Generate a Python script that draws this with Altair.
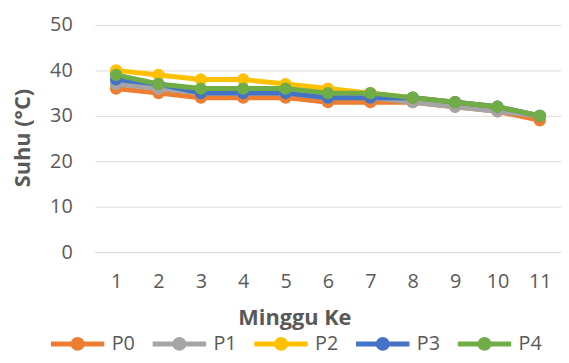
import altair as alt
import pandas as pd

weeks = ["1", "2", "3", "4", "5", "6", "7", "8", "9", "10", "11"]
series = ["P0", "P1", "P2", "P3", "P4"]
colors = ["#ED7D31", "#A5A5A5", "#FFC000", "#4472C4", "#70AD47"]
p0 = [36, 35, 34, 34, 34, 33, 33, 33, 32, 31, 29]
p1 = [37, 36, 35, 35, 35, 34, 34, 33, 32, 31, 30]
p2 = [40, 39, 38, 38, 37, 36, 35, 34, 33, 32, 30]
p3 = [38, 37, 35, 35, 35, 34, 34, 34, 33, 32, 30]
p4 = [39, 37, 36, 36, 36, 35, 35, 34, 33, 32, 30]

rows = []
for name, vals in zip(series, [p0, p1, p2, p3, p4]):
    for w, v in zip(weeks, vals):
        rows.append({"Minggu": w, "Suhu": v, "Seri": name})
df = pd.DataFrame(rows)

FONT = "Open Sans"
GREY = "#595959"

# line from -1 to 1 with a filled dot in the middle (stroked small circles)
legend_path = (
    "M-1,0L1,0 "
    "M0.074,0A0.074,0.074,0,1,1,-0.074,0A0.074,0.074,0,1,1,0.074,0Z "
    "M0.167,0A0.167,0.167,0,1,1,-0.167,0A0.167,0.167,0,1,1,0.167,0Z"
)

chart = alt.Chart(df).mark_line(
    strokeWidth=5,
    point=alt.OverlayMarkDef(filled=True, size=154, opacity=1),
).encode(
    x=alt.X(
        "Minggu:O",
        sort=weeks,
        scale=alt.Scale(type="point", padding=0.5),
        axis=alt.Axis(
            title="Minggu Ke",
            labelAngle=0,
            ticks=False,
            tickSize=0,
            domain=True,
            domainColor="#D9D9D9",
            labelPadding=20,
            labelFontSize=20,
            labelColor=GREY,
            labelFont=FONT,
            titleFont=FONT,
            titleFontSize=22,
            titleFontWeight="bold",
            titleColor=GREY,
            titleX=202,
            titleY=73,
            titleBaseline="alphabetic",
            titleAlign="center",
        ),
    ),
    y=alt.Y(
        "Suhu:Q",
        scale=alt.Scale(domain=[0, 50], nice=False),
        axis=alt.Axis(
            title="Suhu (°C)",
            values=[0, 10, 20, 30, 40, 50],
            ticks=False,
            tickSize=0,
            domain=False,
            grid=True,
            gridColor="#D9D9D9",
            gridWidth=1,
            labelPadding=23,
            labelFontSize=20,
            labelColor=GREY,
            labelFont=FONT,
            titleFont=FONT,
            titleFontSize=22,
            titleFontWeight="bold",
            titleColor=GREY,
            titleAngle=-90,
            titleX=-73,
            titleY=114,
            titleAlign="center",
            titleBaseline="middle",
        ),
    ),
    color=alt.Color(
        "Seri:N",
        scale=alt.Scale(domain=series, range=colors),
        legend=alt.Legend(
            title=None,
            orient="none",
            direction="horizontal",
            legendX=-47,
            legendY=293,
            symbolType=legend_path,
            symbolSize=2916,
            symbolStrokeWidth=5,
            symbolOpacity=1,
            labelOffset=5,
            columnPadding=7,
            labelFont=FONT,
            labelFontSize=20,
            labelColor=GREY,
        ),
    ),
).properties(
    width=472,
    height=230,
    autosize=alt.AutoSizeParams(type="none"),
    padding={"left": 88, "top": 15, "right": 0, "bottom": 102},
).configure_view(stroke=None)

chart.save("out.html", embed_options={"renderer": "svg", "actions": False})
